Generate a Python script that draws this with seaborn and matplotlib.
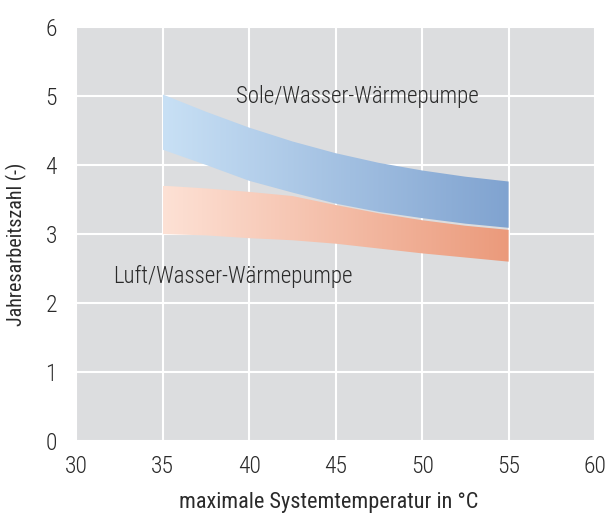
import numpy as np
import matplotlib
matplotlib.use("Agg")
import matplotlib.pyplot as plt
from matplotlib.colors import LinearSegmentedColormap
from matplotlib import font_manager
import seaborn as sns

# ------------------------------------------------
# DATA
# ------------------------------------------------
temps = [35, 37.5, 40, 42.5, 45, 47.5, 50, 52.5, 55]

sole_upper = [5.02, 4.77, 4.54, 4.34, 4.17, 4.03, 3.92, 3.83, 3.76]
sole_lower = [4.22, 4.00, 3.77, 3.60, 3.44, 3.32, 3.23, 3.15, 3.09]

luft_upper = [3.70, 3.66, 3.61, 3.55, 3.42, 3.30, 3.20, 3.12, 3.06]
luft_lower = [3.00, 2.98, 2.94, 2.91, 2.86, 2.79, 2.72, 2.66, 2.60]

x_ticks = [30, 35, 40, 45, 50, 55, 60]
y_ticks = [0, 1, 2, 3, 4, 5, 6]

# ------------------------------------------------
# STYLE
# ------------------------------------------------
sns.set_style("darkgrid", {"axes.facecolor": "#dcdddf", "grid.color": "white"})
names = {f.name for f in font_manager.fontManager.ttflist}
fam = [n for n in ["Roboto Condensed", "Archivo Narrow", "Barlow Semi Condensed",
                   "Asap Condensed"] if n in names][:1]
plt.rcParams["font.family"] = fam + ["DejaVu Sans"]
plt.rcParams["font.weight"] = "light"
TXT = "#2a2a2a"

fig = plt.figure(figsize=(6.06, 5.16), dpi=100)
ax = fig.add_axes([0.126, 0.1448, 0.856, 0.8033])


def gradient_band(ax, x, lo, hi, c_left, c_right):
    poly = ax.fill_between(x, lo, hi, color="none", lw=0)
    cmap = LinearSegmentedColormap.from_list("g", [c_left, c_right])
    grad = np.linspace(0, 1, 256).reshape(1, -1)
    im = ax.imshow(grad, cmap=cmap, aspect="auto",
                   extent=[min(x), max(x), min(lo), max(hi)],
                   origin="lower", zorder=2)
    im.set_clip_path(poly.get_paths()[0], transform=ax.transData)


gradient_band(ax, temps, luft_lower, luft_upper, "#fde1d5", "#eb9a7b")
gradient_band(ax, temps, sole_lower, sole_upper, "#c8e0f5", "#80a3d0")

ax.text(39.25, 4.89, "Sole/Wasser-Wärmepumpe", fontsize=16.5, color=TXT,
        va="baseline", ha="left", zorder=3)
ax.text(32.15, 2.29, "Luft/Wasser-Wärmepumpe", fontsize=16.5, color=TXT,
        va="baseline", ha="left", zorder=3)

ax.set_xlim(30, 60)
ax.set_ylim(0, 6)
ax.set_xticks(x_ticks)
ax.set_yticks(y_ticks)
ax.grid(True, color="white", lw=1.5)
for s in ax.spines.values():
    s.set_visible(False)
ax.tick_params(axis="x", length=0, pad=10, labelsize=17, labelcolor=TXT)
ax.tick_params(axis="y", length=0, pad=14, labelsize=17, labelcolor=TXT)

ax.set_xlabel("maximale Systemtemperatur in °C", fontsize=16, color=TXT)
ax.xaxis.set_label_coords(0.486, -0.122)
ax.set_ylabel("Jahresarbeitszahl (-)", fontsize=14.5, color=TXT)
ax.yaxis.set_label_coords(-0.096, 0.475)

fig.savefig("out.png", dpi=100, facecolor="white")
